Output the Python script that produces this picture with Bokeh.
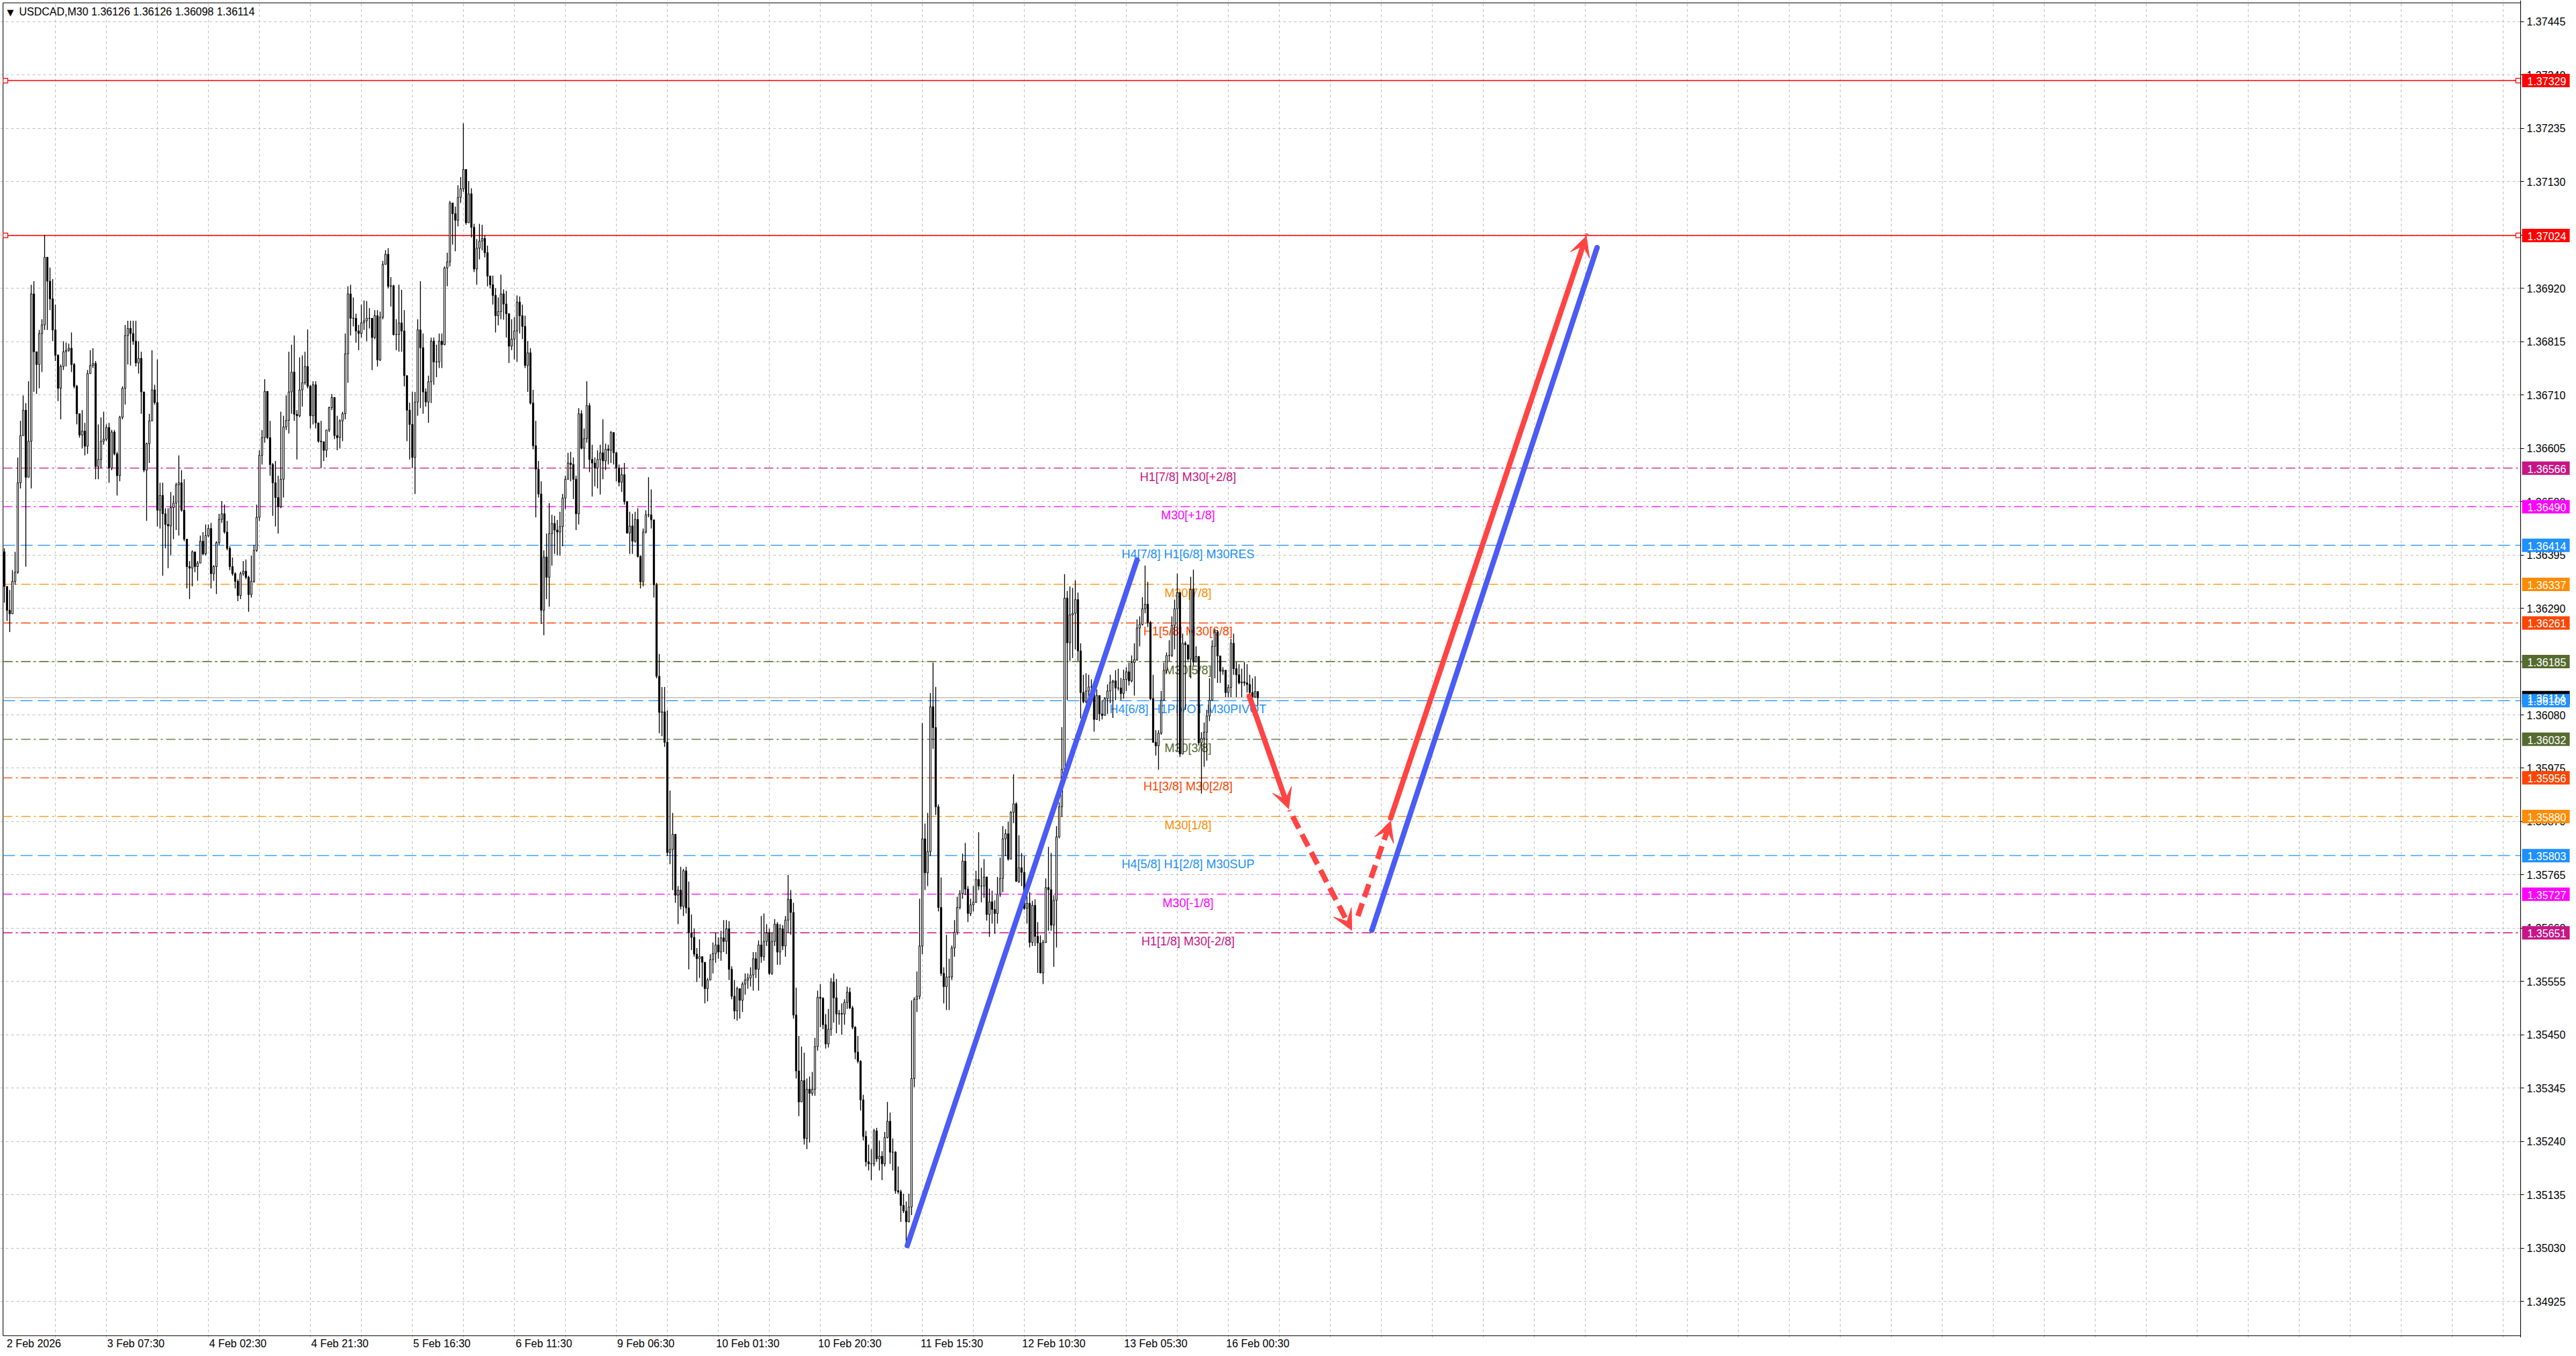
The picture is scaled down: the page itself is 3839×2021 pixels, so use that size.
import numpy as np
from bokeh.plotting import figure
from bokeh.models import (ColumnDataSource, Range1d, FixedTicker, PrintfTickFormatter,
                          Arrow, VeeHead)
from bokeh.core.properties import value
from bokeh.embed import file_html
from bokeh.resources import INLINE

FONT = "Liberation Sans"

# USDCAD M30 candles, prices in points (1e-5)
first_open = 136401
closes = [
    136333, 136286, 136279, 136343, 136361, 136537, 136630, 136680, 136548, 136619,
    136909, 136795, 136770, 136831, 136848, 136981, 136934, 136899, 136838, 136788,
    136723, 136766, 136795, 136798, 136802, 136770, 136727, 136673, 136631, 136639,
    136609, 136752, 136768, 136772, 136569, 136583, 136619, 136623, 136646, 136566,
    136637, 136594, 136551, 136666, 136723, 136827, 136841, 136831, 136816, 136773,
    136782, 136716, 136562, 136614, 136659, 136720, 136695, 136483, 136512, 136476,
    136455, 136452, 136488, 136497, 136533, 136537, 136483, 136426, 136372, 136369,
    136401, 136372, 136379, 136422, 136397, 136433, 136447, 136358, 136372, 136419,
    136465, 136476, 136440, 136408, 136372, 136358, 136343, 136315, 136358, 136363,
    136351, 136317, 136343, 136404, 136469, 136591, 136626, 136717, 136626, 136573,
    136537, 136508, 136490, 136544, 136647, 136660, 136716, 136755, 136672, 136669,
    136720, 136734, 136766, 136727, 136669, 136730, 136655, 136619, 136618, 136601,
    136641, 136685, 136705, 136630, 136626, 136659, 136673, 136791, 136909, 136861,
    136861, 136836, 136831, 136852, 136856, 136861, 136861, 136823, 136866, 136779,
    136863, 136967, 136987, 136924, 136925, 136829, 136829, 136852, 136836, 136748,
    136680, 136652, 136587, 136696, 136838, 136803, 136716, 136696, 136736, 136816,
    136775, 136775, 136816, 136809, 136960, 136972, 137088, 137067, 137054, 137099,
    137116, 137154, 137049, 137106, 137040, 136958, 136999, 137013, 137018, 136990,
    136944, 136927, 136906, 136866, 136874, 136909, 136889, 136870, 136806, 136820,
    136836, 136893, 136866, 136845, 136768, 136793, 136694, 136610, 136564, 136515,
    136286, 136391, 136351, 136437, 136457, 136444, 136440, 136451, 136507, 136544,
    136576, 136573, 136544, 136476, 136673, 136605, 136624, 136689, 136583, 136576,
    136566, 136583, 136596, 136580, 136603, 136601, 136636, 136596, 136566, 136538,
    136553, 136500, 136438, 136452, 136422, 136465, 136392, 136342, 136440, 136474,
    136474, 136464, 136336, 136156, 136085, 136086, 136026, 135809, 135815, 135845,
    135725, 135735, 135703, 135773, 135700, 135651, 135642, 135609, 135600, 135604,
    135593, 135541, 135558, 135598, 135610, 135627, 135613, 135641, 135634, 135659,
    135579, 135526, 135497, 135541, 135518, 135550, 135558, 135562, 135568, 135600,
    135579, 135627, 135604, 135634, 135651, 135571, 135634, 135668, 135613, 135659,
    135625, 135676, 135717, 135691, 135489, 135379, 135318, 135360, 135246, 135343,
    135335, 135343, 135427, 135524, 135522, 135470, 135432, 135461, 135554, 135523,
    135491, 135492, 135491, 135514, 135534, 135503, 135465, 135416, 135398, 135322,
    135250, 135200, 135196, 135196, 135261, 135206, 135211, 135196, 135248, 135280,
    135219, 135219, 135143, 135141, 135114, 135103, 135082, 135111, 135364, 135520,
    135526, 135625, 135836, 135769, 135811, 136096, 136055, 135899, 135701, 135571,
    135545, 135564, 135564, 135621, 135652, 135701, 135728, 135792, 135737, 135689,
    135706, 135711, 135756, 135743, 135743, 135761, 135687, 135712, 135697, 135689,
    135727, 135758, 135836, 135846, 135796, 135888, 135905, 135752, 135779, 135770,
    135699, 135709, 135632, 135705, 135644, 135631, 135572, 135632, 135740, 135736,
    135666, 135715, 135840, 135899, 135973, 136310, 136222, 136277, 136280, 136307,
    136206, 136124, 136106, 136127, 136135, 136135, 136071, 136118, 136082, 136079,
    136112, 136127, 136144, 136147, 136133, 136133, 136122, 136150, 136165, 136147,
    136183, 136189, 136251, 136258, 136289, 136298, 136262, 136112, 136026, 136019,
    136044, 136109, 136168, 136197, 136197, 136256, 136289, 136321, 136003, 136221,
    136218, 136190, 136327, 136184, 136195, 136025, 136034, 136046, 136078, 136109,
    136215, 136243, 136196, 136166, 136168, 136124, 136134, 136221, 136171, 136159,
    136143, 136145, 136143, 136140, 136124, 136115, 136126, 136114,
]
highs = [
    136408, 136333, 136326, 136365, 136401, 136587, 136659, 136709, 136694, 136737,
    136927, 136934, 136795, 136838, 136859, 137025, 136982, 136961, 136938, 136888,
    136790, 136770, 136816, 136813, 136811, 136833, 136773, 136730, 136673, 136680,
    136655, 136759, 136798, 136802, 136777, 136652, 136666, 136677, 136652, 136655,
    136641, 136641, 136598, 136669, 136727, 136848, 136856, 136856, 136856, 136856,
    136816, 136795, 136716, 136616, 136673, 136798, 136730, 136780, 136537, 136537,
    136487, 136487, 136519, 136512, 136537, 136591, 136562, 136544, 136426, 136383,
    136404, 136383, 136383, 136433, 136440, 136455, 136455, 136458, 136375, 136422,
    136476, 136501, 136494, 136462, 136412, 136390, 136361, 136347, 136362, 136383,
    136386, 136354, 136394, 136415, 136494, 136601, 136641, 136741, 136716, 136659,
    136576, 136580, 136551, 136677, 136669, 136709, 136795, 136809, 136827, 136680,
    136784, 136788, 136795, 136839, 136730, 136737, 136737, 136648, 136659, 136605,
    136641, 136687, 136712, 136705, 136669, 136662, 136677, 136831, 136924, 136927,
    136902, 136870, 136848, 136888, 136896, 136895, 136881, 136859, 136877, 136877,
    136874, 136974, 136995, 136999, 136942, 136927, 136859, 136927, 136917, 136877,
    136745, 136695, 136716, 136716, 136859, 136934, 136831, 136723, 136748, 136823,
    136823, 136809, 136831, 136831, 136963, 136990, 137092, 137074, 137081, 137123,
    137139, 137245, 137148, 137131, 137117, 137047, 137017, 137047, 137045, 137024,
    137004, 136945, 136945, 136920, 136902, 136947, 136918, 136915, 136868, 136859,
    136863, 136906, 136904, 136888, 136866, 136816, 136802, 136720, 136659, 136580,
    136540, 136404, 136437, 136497, 136474, 136472, 136464, 136480, 136515, 136551,
    136596, 136598, 136587, 136551, 136684, 136680, 136644, 136737, 136694, 136612,
    136587, 136601, 136612, 136662, 136614, 136612, 136639, 136634, 136598, 136573,
    136566, 136576, 136501, 136480, 136476, 136480, 136487, 136394, 136447, 136483,
    136548, 136524, 136462, 136340, 136200, 136135, 136135, 136089, 135931, 135887,
    135845, 135743, 135781, 135777, 135781, 135752, 135687, 135659, 135621, 135638,
    135604, 135583, 135562, 135609, 135632, 135651, 135642, 135655, 135676, 135676,
    135674, 135585, 135558, 135545, 135541, 135554, 135571, 135571, 135583, 135613,
    135613, 135636, 135684, 135689, 135668, 135659, 135651, 135678, 135672, 135668,
    135666, 135684, 135765, 135735, 135710, 135543, 135448, 135427, 135415, 135364,
    135368, 135377, 135444, 135537, 135550, 135524, 135491, 135501, 135562, 135571,
    135560, 135499, 135512, 135520, 135545, 135543, 135507, 135467, 135448, 135400,
    135332, 135261, 135234, 135225, 135265, 135267, 135242, 135221, 135259, 135318,
    135297, 135246, 135221, 135191, 135145, 135137, 135122, 135137, 135518, 135524,
    135575, 135718, 136064, 135866, 135887, 136123, 136183, 136135, 135904, 135760,
    135583, 135647, 135600, 135626, 135676, 135722, 135735, 135807, 135828, 135743,
    135718, 135743, 135773, 135849, 135779, 135796, 135746, 135738, 135734, 135715,
    135761, 135799, 135861, 135855, 135870, 135891, 135963, 135908, 135843, 135808,
    135802, 135731, 135731, 135714, 135717, 135672, 135646, 135637, 135758, 135820,
    135808, 135725, 135861, 135908, 136056, 136357, 136324, 136333, 136330, 136345,
    136321, 136221, 136159, 136162, 136159, 136150, 136124, 136130, 136112, 136109,
    136115, 136140, 136159, 136149, 136168, 136171, 136153, 136169, 136174, 136183,
    136197, 136221, 136268, 136274, 136312, 136374, 136342, 136265, 136159, 136050,
    136050, 136127, 136183, 136203, 136227, 136274, 136307, 136358, 136291, 136240,
    136225, 136218, 136352, 136366, 136215, 136196, 136046, 136065, 136090, 136152,
    136227, 136249, 136247, 136190, 136174, 136128, 136140, 136230, 136240, 136184,
    136180, 136171, 136184, 136180, 136159, 136152, 136156, 136126,
]
lows = [
    136301, 136265, 136243, 136286, 136336, 136358, 136526, 136634, 136372, 136548,
    136526, 136716, 136712, 136723, 136755, 136838, 136838, 136877, 136816, 136777,
    136698, 136662, 136759, 136766, 136795, 136755, 136723, 136652, 136626, 136605,
    136591, 136594, 136752, 136763, 136544, 136544, 136566, 136612, 136619, 136537,
    136562, 136591, 136512, 136540, 136662, 136691, 136770, 136768, 136809, 136766,
    136752, 136673, 136558, 136462, 136576, 136659, 136691, 136451, 136447, 136354,
    136408, 136369, 136394, 136426, 136444, 136433, 136480, 136422, 136329, 136308,
    136333, 136361, 136344, 136390, 136394, 136394, 136430, 136329, 136344, 136318,
    136415, 136458, 136437, 136404, 136365, 136354, 136329, 136304, 136308, 136354,
    136347, 136283, 136311, 136340, 136401, 136462, 136573, 136616, 136623, 136551,
    136472, 136451, 136437, 136487, 136508, 136641, 136634, 136673, 136659, 136583,
    136666, 136687, 136730, 136723, 136644, 136652, 136644, 136616, 136566, 136580,
    136587, 136637, 136680, 136623, 136601, 136605, 136619, 136662, 136734, 136827,
    136845, 136813, 136798, 136823, 136838, 136816, 136841, 136759, 136820, 136766,
    136777, 136859, 136967, 136920, 136884, 136827, 136798, 136795, 136795, 136727,
    136619, 136583, 136566, 136515, 136669, 136684, 136673, 136687, 136655, 136694,
    136730, 136745, 136763, 136763, 136808, 136924, 136963, 137006, 136993, 137042,
    137088, 137110, 137045, 137049, 137020, 136952, 136927, 136977, 136995, 136981,
    136924, 136920, 136888, 136833, 136847, 136859, 136858, 136823, 136773, 136798,
    136780, 136775, 136831, 136820, 136763, 136716, 136691, 136603, 136469, 136508,
    136259, 136237, 136308, 136293, 136374, 136397, 136394, 136394, 136412, 136485,
    136543, 136540, 136505, 136444, 136455, 136603, 136566, 136616, 136558, 136510,
    136530, 136526, 136514, 136544, 136562, 136573, 136576, 136573, 136540, 136530,
    136519, 136494, 136437, 136397, 136397, 136419, 136390, 136329, 136333, 136437,
    136469, 136447, 136311, 136152, 136044, 136038, 136017, 135802, 135786, 135735,
    135710, 135668, 135697, 135684, 135689, 135579, 135617, 135604, 135554, 135562,
    135545, 135512, 135516, 135575, 135571, 135592, 135600, 135596, 135613, 135609,
    135558, 135520, 135481, 135478, 135482, 135495, 135529, 135541, 135545, 135537,
    135562, 135537, 135592, 135596, 135625, 135568, 135568, 135625, 135588, 135588,
    135617, 135604, 135651, 135647, 135482, 135364, 135290, 135318, 135234, 135225,
    135238, 135330, 135330, 135419, 135465, 135461, 135423, 135425, 135448, 135474,
    135453, 135470, 135450, 135470, 135501, 135501, 135461, 135402, 135394, 135301,
    135242, 135191, 135183, 135164, 135191, 135200, 135183, 135164, 135191, 135246,
    135196, 135183, 135137, 135137, 135082, 135099, 135033, 135081, 135095, 135347,
    135495, 135520, 135609, 135735, 135743, 135802, 136013, 135883, 135693, 135566,
    135512, 135499, 135499, 135558, 135604, 135647, 135697, 135718, 135725, 135672,
    135684, 135693, 135710, 135735, 135711, 135720, 135675, 135643, 135669, 135649,
    135669, 135722, 135731, 135802, 135793, 135796, 135867, 135752, 135749, 135743,
    135696, 135669, 135622, 135625, 135625, 135572, 135571, 135550, 135631, 135655,
    135655, 135584, 135622, 135837, 135879, 135967, 136109, 136186, 136192, 136209,
    136186, 136073, 136103, 136103, 136103, 136127, 136047, 136097, 136068, 136071,
    136079, 136082, 136103, 136074, 136109, 136128, 136109, 136112, 136127, 136138,
    136144, 136118, 136186, 136215, 136256, 136280, 136253, 136109, 136026, 136000,
    135972, 136041, 136109, 136162, 136186, 136194, 136209, 136009, 135997, 136053,
    136090, 136187, 136152, 136177, 136184, 136020, 135925, 135978, 135990, 136068,
    136109, 136152, 136143, 136143, 136159, 136115, 136115, 136115, 136159, 136115,
    136140, 136115, 136137, 136124, 136115, 136112, 136114, 136098,
]

# axis ticks and labels
y_ticks = [1.37445, 1.37340, 1.37235, 1.37130, 1.37025, 1.36920, 1.36815, 1.36710,
           1.36605, 1.36500, 1.36395, 1.36290, 1.36185, 1.36080, 1.35975, 1.35870,
           1.35765, 1.35660, 1.35555, 1.35450, 1.35345, 1.35240, 1.35135, 1.35030, 1.34925]
x_labels = ["2 Feb 2026", "3 Feb 07:30", "4 Feb 02:30", "4 Feb 21:30", "5 Feb 16:30",
            "6 Feb 11:30", "9 Feb 06:30", "10 Feb 01:30", "10 Feb 20:30", "11 Feb 15:30",
            "12 Feb 10:30", "13 Feb 05:30", "16 Feb 00:30"]
header = "USDCAD,M30  1.36126 1.36126 1.36098 1.36114"

# Murrey-style levels
level_prices = [1.36566, 1.36490, 1.36414, 1.36337, 1.36261, 1.36185, 1.36108,
                1.36032, 1.35956, 1.35880, 1.35803, 1.35727, 1.35651]
level_names = ["H1[7/8] M30[+2/8]", "M30[+1/8]", "H4[7/8] H1[6/8] M30RES", "M30[7/8]",
               "H1[5/8] M30[6/8]", "M30[5/8]", "H4[6/8] H1PIVOT M30PIVOT", "M30[3/8]",
               "H1[3/8] M30[2/8]", "M30[1/8]", "H4[5/8] H1[2/8] M30SUP", "M30[-1/8]",
               "H1[1/8] M30[-2/8]"]
level_colors = ["#C71585", "#FF00FF", "#1E90FF", "#FF8C00", "#FF4500", "#556B2F", "#1E90FF",
                "#556B2F", "#FF4500", "#FF8C00", "#1E90FF", "#FF00FF", "#C71585"]
red_levels = [1.37329, 1.37024]
bid_price = 1.36114

# drawn trend lines and projection arrows (bar index, price)
blue_x0 = [336.4, 509.5]
blue_y0 = [1.35035, 1.35656]
blue_x1 = [422.0, 593.4]
blue_y1 = [1.36385, 1.37000]
solid_arrow_x0 = [463.8, 516.5]
solid_arrow_y0 = [1.36117, 1.35877]
solid_arrow_x1 = [478.5, 589.4]
solid_arrow_y1 = [1.35895, 1.37023]
dash_arrow_x0 = [480.0, 504.3]
dash_arrow_y0 = [1.35880, 1.35684]
dash_arrow_x1 = [502.0, 516.5]
dash_arrow_y1 = [1.35656, 1.35871]

close = np.array(closes) / 1e5
open_ = np.concatenate([[first_open / 1e5], close[:-1]])
high = np.maximum.reduce([np.array(highs) / 1e5, open_, close])
low = np.minimum.reduce([np.array(lows) / 1e5, open_, close])
idx = np.arange(len(close))
bull = close >= open_

src = ColumnDataSource(dict(
    x=idx, high=high, low=low,
    top=np.maximum(open_, close), bottom=np.minimum(open_, close),
    fill=np.where(bull, "white", "black"),
))

# chart box: bars -0.5 .. 937.5, price scale to the right of it
X0, X1, AX = -1.5, 958.25, 937.5
Y0, Y1 = 1.34854, 1.37487
BOX_B, BOX_T = 1.348576, 1.374821

p = figure(width=3839, height=2021, x_range=Range1d(X0, X1), y_range=Range1d(Y0, Y1),
           y_axis_location="right", output_backend="svg", toolbar_location=None,
           min_border_left=0, min_border_right=0, min_border_top=0, min_border_bottom=28)
p.background_fill_color = "white"
p.border_fill_color = "white"
p.outline_line_color = None

# grid
p.xgrid.ticker = FixedTicker(ticks=list(range(19, 938, 19)))
p.ygrid.ticker = FixedTicker(ticks=y_ticks)
p.grid.grid_line_color = "#C0C0C0"
p.grid.grid_line_dash = "4 4"
p.grid.grid_line_width = 1

# keep the price-scale strip clean, frame the chart box
p.quad(left=AX, right=X1, bottom=Y0, top=Y1, fill_color="white", line_color=None)
p.quad(left=-0.5, right=AX, bottom=BOX_B, top=BOX_T, fill_color=None,
       line_color="black", line_width=1)

# axes
p.yaxis.fixed_location = AX
p.yaxis.ticker = FixedTicker(ticks=y_ticks)
p.yaxis.formatter = PrintfTickFormatter(format="%.5f")
p.yaxis.axis_line_color = "black"
p.yaxis.major_tick_out = 5
p.yaxis.major_tick_in = 0
p.yaxis.minor_tick_line_color = None
p.yaxis.major_label_standoff = 4

x_ticks = [38 * i + 11 for i in range(len(x_labels))]
p.xaxis.ticker = FixedTicker(ticks=x_ticks)
p.xaxis.major_label_overrides = {t: lab for t, lab in zip(x_ticks, x_labels)}
p.xaxis.axis_line_color = None
p.xaxis.major_tick_line_color = None
p.xaxis.minor_tick_line_color = None
p.xaxis.major_tick_out = 0
p.xaxis.major_label_standoff = 0

for ax in (p.xaxis, p.yaxis):
    ax.major_label_text_font = FONT
    ax.major_label_text_font_size = "16px"
    ax.major_label_text_color = "black"

# level lines
for price, col in zip(level_prices, level_colors):
    dash = "18 8" if col == "#1E90FF" else "14 5 3 5"
    p.segment(x0=-0.5, y0=price, x1=AX, y1=price, line_color=col, line_width=1.3, line_dash=dash)
for price in red_levels:
    p.segment(x0=-0.5, y0=price, x1=AX, y1=price, line_color="#FF0000", line_width=1.5)
p.segment(x0=-0.5, y0=bid_price, x1=AX, y1=bid_price, line_color="#C0C0C0", line_width=1.5)
p.scatter(x=[0.4, 0.4, 936.6, 936.6], y=red_levels + red_levels, marker="square", size=7,
          fill_color="white", line_color="#FF0000", line_width=1.2)

p.text(x=[441] * len(level_prices), y=level_prices, text=level_names,
       text_color=level_colors, text_font=value(FONT), text_font_size="18px",
       text_align="center", text_baseline="top", y_offset=3)

# candles
p.segment(x0="x", y0="low", x1="x", y1="high", source=src, line_color="black", line_width=1.3)
p.vbar(x="x", width=0.55, top="top", bottom="bottom", source=src,
       fill_color="fill", line_color="black", line_width=1)

# trend lines and arrows
BLUE = "#4A5CF5"
RED = "#FF4444"
p.segment(x0=blue_x0, y0=blue_y0, x1=blue_x1, y1=blue_y1, line_color=BLUE,
          line_width=8, line_cap="round")
solid_src = ColumnDataSource(dict(x0=solid_arrow_x0, y0=solid_arrow_y0,
                                  x1=solid_arrow_x1, y1=solid_arrow_y1))
dash_src = ColumnDataSource(dict(x0=dash_arrow_x0, y0=dash_arrow_y0,
                                 x1=dash_arrow_x1, y1=dash_arrow_y1))
p.add_layout(Arrow(source=solid_src, x_start="x0", y_start="y0", x_end="x1", y_end="y1",
                   line_color=RED, line_width=8, line_cap="round",
                   end=VeeHead(size=30, fill_color=RED, line_color=RED)))
p.add_layout(Arrow(source=dash_src, x_start="x0", y_start="y0", x_end="x1", y_end="y1",
                   line_color=RED, line_width=8, line_dash="20 10",
                   end=VeeHead(size=30, fill_color=RED, line_color=RED)))

# header
p.text(x=[-0.5], y=[BOX_T], text=["\u25bc"], text_color="black", text_font=value("DejaVu Sans"),
       text_font_size="13px", text_baseline="top", x_offset=6, y_offset=7)
p.text(x=[-0.5], y=[BOX_T], text=[header], text_color="black", text_font=value(FONT),
       text_font_size="16px", text_baseline="top", x_offset=24, y_offset=5)

# price tags on the scale (bid tag first, the pivot tag covers most of it)
tag_prices = [bid_price] + red_levels + level_prices
tag_colors = ["black", "#FF0000", "#FF0000"] + level_colors
tags = ColumnDataSource(dict(y=tag_prices, color=tag_colors,
                             label=[f"{v:.5f}" for v in tag_prices]))
tag_box = p.rect(x=AX + 9.4, y="y", width=71, height=20, width_units="screen",
                 height_units="screen", source=tags, fill_color="color", line_color=None)
tag_box.level = "overlay"
tag_txt = p.text(x=AX, y="y", text="label", source=tags, text_color="white",
                 text_font=value(FONT), text_font_size="16px", text_align="left",
                 text_baseline="middle", x_offset=10, y_offset=1)
tag_txt.level = "overlay"

open("out.html", "w").write(file_html(p, INLINE))
